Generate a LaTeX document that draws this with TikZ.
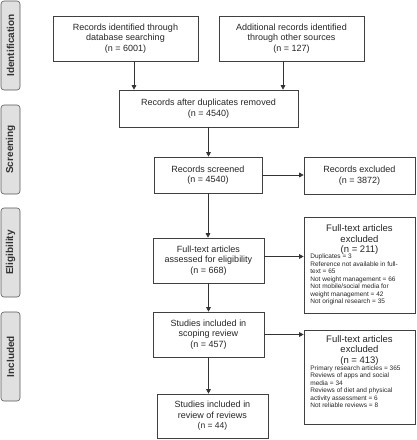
\documentclass[tikz,border=0pt]{standalone}
\usepackage{fontspec}
\setmainfont{Liberation Sans}
\usetikzlibrary{arrows.meta}
\begin{document}
\begin{tikzpicture}[x=1pt,y=-1pt,
  box/.style={draw=black!75,line width=0.6pt,fill=white,align=center,inner sep=0pt,
    font=\fontsize{9}{10.5}\selectfont,text=black!85},
  ttl/.style={align=center,inner sep=0pt,font=\fontsize{9.5}{10.5}\selectfont,text=black!85},
  lst/.style={align=left,inner sep=0pt,font=\fontsize{6.5}{7.5}\selectfont,text=black!85},
  band/.style={draw=black!65,line width=0.6pt,fill=black!12,rounded corners=3pt,
    rotate=90,minimum height=19pt,inner sep=0pt,
    font=\bfseries\fontsize{10}{12}\selectfont,text=black!80},
  arr/.style={-{Triangle[length=4.5pt,width=4.5pt]},line width=0.6pt,draw=black!80}]
\useasboundingbox (0,0) rectangle (417,440);
\fill[white] (0,0) rectangle (417,440);

% phase bands
\node[band,minimum width=89pt] (bId) at (10.5,45.5) {Identification};
\node[band,minimum width=89pt] (bSc) at (10.5,149.5) {Screening};
\node[band,minimum width=89pt] (bEl) at (10.5,252.5) {Eligibility};
\node[band,minimum width=89pt] (bIn) at (10.5,356.5) {Included};

% boxes
\node[box,minimum width=145pt,minimum height=45pt] (db) at (125.5,38.5)
  {Records identified through\\database searching\\(n = 6001)};
\node[box,minimum width=145pt,minimum height=45pt] (oth) at (291.5,38.5)
  {Additional records identified\\through other sources\\(n = 127)};
\node[box,minimum width=179pt,minimum height=37pt] (dup) at (208.5,108.5)
  {Records after duplicates removed\\(n = 4540)};
\node[box,minimum width=108pt,minimum height=36pt] (scr) at (208,175)
  {Records screened\\(n = 4540)};
\node[box,minimum width=111pt,minimum height=37pt] (rex) at (359.5,175.5)
  {Records excluded\\(n = 3872)};
\node[box,minimum width=111pt,minimum height=45pt] (elig) at (208.5,260.5)
  {Full-text articles\\assessed for eligibility\\(n = 668)};
\node[box,minimum width=111pt,minimum height=45pt] (scop) at (208.5,334.5)
  {Studies included in\\scoping review\\(n = 457)};
\node[box,minimum width=111pt,minimum height=44pt] (rev) at (212.5,416)
  {Studies included in\\review of reviews\\{\fontsize{8.5}{10}\selectfont(n = 44)}};

% excluded full-text (211)
\node[box,minimum width=111pt,minimum height=96pt] (ex1) at (359.5,265) {};
\node[ttl,anchor=north] (ex1t) at ([yshift=-8pt]ex1.north)
  {Full-text articles\\excluded\\(n = 211)};
\node[lst,anchor=north west] (ex1l) at ([xshift=6.5pt,yshift=-37pt]ex1.north west)
  {Duplicates = 3\\Reference not available in full-\\text = 65\\Not weight management = 66\\Not mobile/social media for\\weight management = 42\\Not original research = 35};

% excluded full-text (413)
\node[box,minimum width=111pt,minimum height=93.5pt] (ex2) at (359.5,377.25) {};
\node[ttl,anchor=north] (ex2t) at ([yshift=-5pt]ex2.north)
  {Full-text articles\\excluded\\(n = 413)};
\node[lst,anchor=north west] (ex2l) at ([xshift=6.5pt,yshift=-35pt]ex2.north west)
  {Primary research articles = 365\\Reviews of apps and social\\media = 34\\Reviews of diet and physical\\activity assessment = 6\\Not reliable reviews = 8};

% connectors
\draw[arr] ([xshift=8.5pt]db.south) -- ([xshift=8.5pt]db.south |- dup.north);
\draw[arr] ([xshift=-8.5pt]oth.south) -- ([xshift=-8.5pt]oth.south |- dup.north);
\draw[arr] (dup.south) -- (dup.south |- scr.north);
\draw[arr] (scr.east) -- (scr.east -| rex.west);
\draw[arr] (scr.south) -- (scr.south |- elig.north);
\draw[arr] ([yshift=4pt]elig.east) -- ([yshift=4pt]elig.east -| ex1.west);
\draw[arr] (elig.south) -- (elig.south |- scop.north);
\draw[arr] (scop.east) -- (scop.east -| ex2.west);
\draw[arr] (scop.south) -- (scop.south |- rev.north);
\end{tikzpicture}
\end{document}
